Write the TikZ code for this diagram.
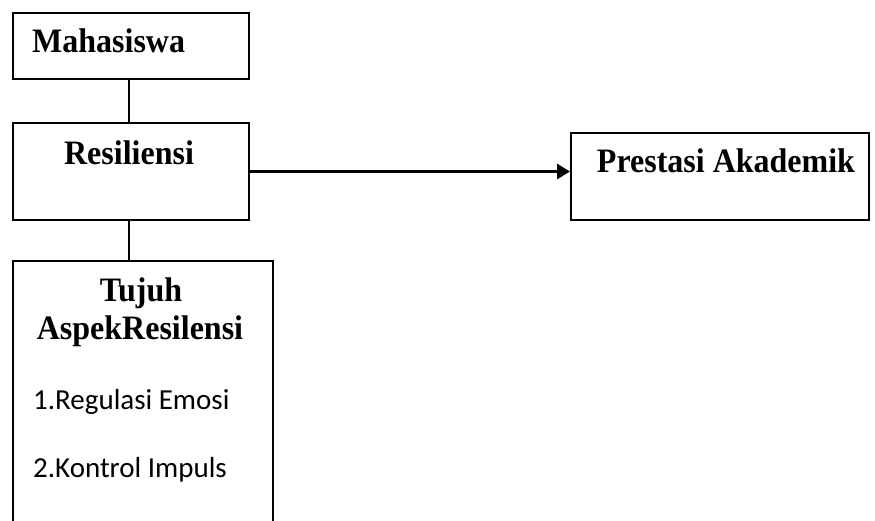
\documentclass[tikz,border=0pt]{standalone}
\usepackage{fontspec}
\setmainfont{Liberation Serif}
\newfontfamily\calibri{Carlito}
\usetikzlibrary{arrows.meta}
\newcommand{\myvstretch}[1]{\scalebox{1}[1.07]{#1}}
\begin{document}
\begin{tikzpicture}[x=1pt,y=-1pt,
 box/.style={draw, line width=2pt, rectangle, inner sep=0pt, anchor=north west},
 title/.style={font=\bfseries\fontsize{32}{37}\selectfont, inner sep=0pt, anchor=base},
 item/.style={font=\calibri\fontsize{29}{34}\selectfont, inner sep=0pt, anchor=base west},
 link/.style={line width=2pt},
 flow/.style={line width=3pt, -{Triangle[length=13pt,width=15pt]}}]
\useasboundingbox (0,0) rectangle (875,520);
\fill[white] (0,0) rectangle (875,520);
\clip (0,0) rectangle (875,520);
\node[box, minimum width=236pt, minimum height=66pt] (mhs) at (12,12) {};
\node[box, minimum width=236pt, minimum height=97pt] (res) at (12,122) {};
\node[box, minimum width=298pt, minimum height=87pt] (pres) at (570,132) {};
\node[box, minimum width=260pt, minimum height=300pt] (tuj) at (12,260) {};
\node[title, anchor=base west] (tmhs) at (32,52) {\myvstretch{Mahasiswa}};
\node[title] (tres) at (129,164) {\myvstretch{Resiliensi}};
\node[title] (tpres) at (726,172) {\myvstretch{Prestasi Akademik}};
\node[title] (ttuj1) at (141,301) {\myvstretch{Tujuh}};
\node[title] (ttuj2) at (140,339.5) {\myvstretch{AspekResilensi}};
\node[item] (i1) at (33,409) {1.Regulasi Emosi};
\node[item] (i2) at (33,477) {2.Kontrol Impuls};
\draw[link] (mhs.south -| res.south) ++(-2,0) coordinate (c1) -- (c1 |- res.north);
\draw[link] (res.south) ++(-2,0) coordinate (c2) -- (c2 |- tuj.north);
\draw[flow] (res.east) -- (res.east -| pres.west);
\end{tikzpicture}
\end{document}
